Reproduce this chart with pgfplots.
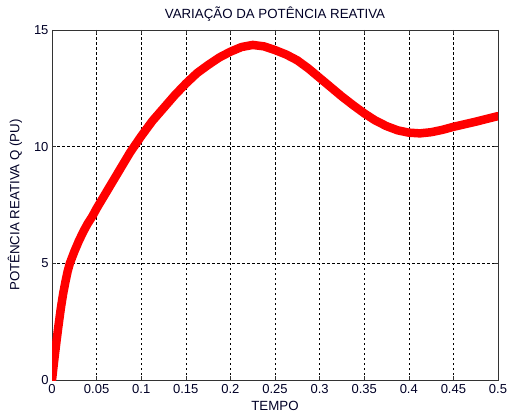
\documentclass[border=0pt]{standalone}
\usepackage{fontspec}
\setmainfont{Liberation Sans}
\usepackage{pgfplots}
\pgfplotsset{compat=1.18}
\begin{document}
\begin{tikzpicture}
\path[use as bounding box] (-52bp,-39bp) rectangle (455bp,380bp);
\begin{axis}[
  at={(0,0)}, anchor=south west,
  width=446bp, height=350bp, scale only axis,
  xmin=0, xmax=0.5, ymin=0, ymax=15,
  xtick={0,0.05,...,0.5},
  xticklabels={0,0.05,0.1,0.15,0.2,0.25,0.3,0.35,0.4,0.45,0.5},
  ytick={0,5,10,15},
  /pgf/number format/assume math mode=true,
  tick label style={font=\fontsize{13bp}{15bp}\selectfont, text=black!85!blue},
  label style={font=\fontsize{13.3bp}{15bp}\selectfont, text=black!85!blue},
  title style={font=\fontsize{13.3bp}{15bp}\selectfont, text=black!85!blue, yshift=-1bp},
  title={VARIAÇÃO DA POTÊNCIA REATIVA},
  xlabel={TEMPO},
  ylabel={POTÊNCIA REATIVA Q (PU)},
  xlabel style={yshift=-1bp},
  ylabel style={yshift=5bp},
  grid=major,
  major grid style={black, line width=0.6bp, dash pattern=on 2.5bp off 2.5bp},
  axis line style={black!80, line width=0.8bp},
  tick style={black!80, line width=0.6bp},
  tick align=inside,
  major tick length=4bp,
  xticklabel style={yshift=-1bp},
  clip=true,
]
\addplot[red, line width=8.5bp, line join=round, line cap=round] coordinates {
(0,0) (0.0025,0.85) (0.005,1.65) (0.0075,2.4) (0.01,3.1) (0.0125,3.7) (0.015,4.2)
(0.0175,4.65) (0.02,5.0) (0.025,5.5) (0.03,5.95) (0.035,6.35) (0.04,6.7) (0.045,7.0)
(0.05,7.35) (0.0625,8.15) (0.075,8.95) (0.0875,9.75) (0.1,10.45) (0.1125,11.1)
(0.125,11.65) (0.1375,12.2) (0.15,12.7) (0.1625,13.15) (0.175,13.5) (0.1875,13.82)
(0.2,14.07) (0.2125,14.27) (0.225,14.36) (0.2375,14.3) (0.25,14.14) (0.2625,13.95)
(0.275,13.7) (0.2875,13.35) (0.3,12.95) (0.3125,12.55) (0.325,12.15) (0.3375,11.78)
(0.35,11.43) (0.3625,11.12) (0.375,10.88) (0.3875,10.7) (0.4,10.6) (0.4125,10.57)
(0.425,10.62) (0.4375,10.72) (0.45,10.85) (0.4625,10.96) (0.475,11.07) (0.4875,11.19)
(0.5,11.31)
};
\end{axis}
\end{tikzpicture}
\end{document}
